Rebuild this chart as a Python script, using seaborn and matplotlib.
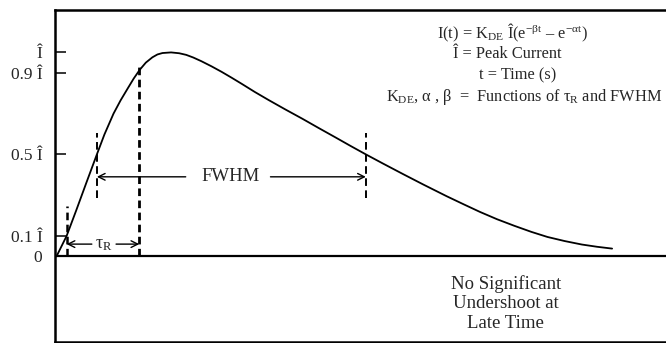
import matplotlib
matplotlib.use("Agg")
import matplotlib.pyplot as plt
import seaborn as sns
import pandas as pd

# Double-exponential current pulse, normalised to the peak current
time_us = [0.0, 1.0, 1.95, 2.95, 4.0, 4.75, 5.65, 6.35, 7.05, 7.65, 8.25,
           8.85, 9.5, 10.0, 10.5, 11.35, 12.15, 12.85, 13.55, 14.35, 15.35,
           16.35, 17.35, 18.35, 19.65, 21.0, 22.65, 24.35, 25.95, 27.65, 29.15,
           30.65, 32.35, 34.35, 36.35, 38.65, 40.35, 41.95, 43.65, 45.35, 47.05,
           48.65, 50.35, 52.05, 53.55, 55.05]
current = [0.0, 0.10, 0.225, 0.36, 0.50, 0.598, 0.70, 0.765, 0.823, 0.872,
           0.915, 0.95, 0.976, 0.99, 0.997, 1.0, 0.996, 0.988, 0.975, 0.957,
           0.932, 0.905, 0.876, 0.846, 0.806, 0.767, 0.721, 0.675, 0.63, 0.583,
           0.541, 0.50, 0.455, 0.403, 0.352, 0.295, 0.255, 0.218, 0.182, 0.15,
           0.12, 0.095, 0.075, 0.058, 0.047, 0.038]

# Reference levels and the times at which the pulse crosses them
tick_values = [1.0, 0.9, 0.5, 0.1, 0.0]
tick_labels = ["Î", "0.9 Î", "0.5 Î", "0.1 Î", "0"]
t10, t90 = 1.0, 8.2              # rise-time markers (10 % and 90 %)
t50_rise, t50_fall = 4.0, 30.65  # half-maximum crossings

df = pd.DataFrame({"t": time_us, "I": current})

sns.set_style("white")
plt.rcParams["font.family"] = ["Liberation Serif", "DejaVu Serif"]
plt.rcParams["mathtext.fontset"] = "custom"
plt.rcParams["mathtext.rm"] = "Liberation Serif"
plt.rcParams["mathtext.it"] = "Liberation Serif"
plt.rcParams["mathtext.bf"] = "Liberation Serif:bold"
plt.rcParams["lines.scale_dashes"] = False

fig = plt.figure(figsize=(6.66, 3.43), dpi=100)
ax = fig.add_axes([55 / 666, 1 / 343, 1.0 - 55 / 666 + 0.01, 1 - 11 / 343])

sns.lineplot(data=df, x="t", y="I", ax=ax, color="black", lw=1.3)

ax.set_xlim(-0.15, 61.05)
ax.set_ylim(-0.42, 1.208)

# Zero baseline
ax.axhline(0, color="black", lw=1.6)

dash = (0, (5.5, 3.2))
# Rise-time markers
ax.plot([t10, t10], [0, 0.245], color="black", lw=1.8, ls=dash)
ax.plot([t90, t90], [0, 0.95], color="black", lw=2.0, ls=dash)
# FWHM markers
ax.plot([t50_rise, t50_rise], [0.287, 0.605], color="black", lw=1.4, ls=dash)
ax.plot([t50_fall, t50_fall], [0.287, 0.605], color="black", lw=1.4, ls=dash)

arrow = dict(arrowstyle="->", color="black", lw=1.0, shrinkA=0, shrinkB=0,
             mutation_scale=12)
# FWHM span
y_fw = 0.39
ax.annotate("", xy=(t50_rise, y_fw), xytext=(12.8, y_fw), arrowprops=arrow)
ax.annotate("", xy=(t50_fall, y_fw), xytext=(21.2, y_fw), arrowprops=arrow)
ax.text(17.2, y_fw, "FWHM", ha="center", va="center", fontsize=13.5)

# Rise-time span
y_tr = 0.06
ax.annotate("", xy=(t10, y_tr), xytext=(3.5, y_tr), arrowprops=arrow)
ax.annotate("", xy=(t90, y_tr), xytext=(5.9, y_tr), arrowprops=arrow)
ax.text(4.7, y_tr, "τ$_{\\mathrm{R}}$", ha="center", va="center", fontsize=13)

# Formula block
fs = 11.8
ax.text(45.2, 1.098, "I(t) = K$_{\\mathrm{DE}}$ Î(e$^{-\\mathrm{βt}}$ – e$^{-\\mathrm{αt}}$)",
        ha="center", va="center", fontsize=fs)
ax.text(44.7, 0.993, "Î = Peak Current", ha="center", va="center", fontsize=fs)
ax.text(45.7, 0.886, "t = Time (s)", ha="center", va="center", fontsize=fs)
ax.text(46.3, 0.779, "K$_{\\mathrm{DE}}$, α , β  =  Functions of τ$_{\\mathrm{R}}$ and FWHM",
        ha="center", va="center", fontsize=11.8)

ax.text(44.5, -0.23, "No Significant\nUndershoot at\nLate Time", ha="center",
        va="center", fontsize=13.5, linespacing=1.2)

ax.set_yticks(tick_values)
ax.set_yticklabels(tick_labels)
ax.set_xticks([])
ax.tick_params(axis="y", direction="in", length=8, width=1.3, labelsize=12.5,
               pad=9, left=True)
ax.set_xlabel("")
ax.set_ylabel("")

for side in ["left", "top", "bottom"]:
    ax.spines[side].set_color("black")
    ax.spines[side].set_linewidth(1.8)
ax.spines["right"].set_visible(False)

fig.savefig("out.png", dpi=100)
